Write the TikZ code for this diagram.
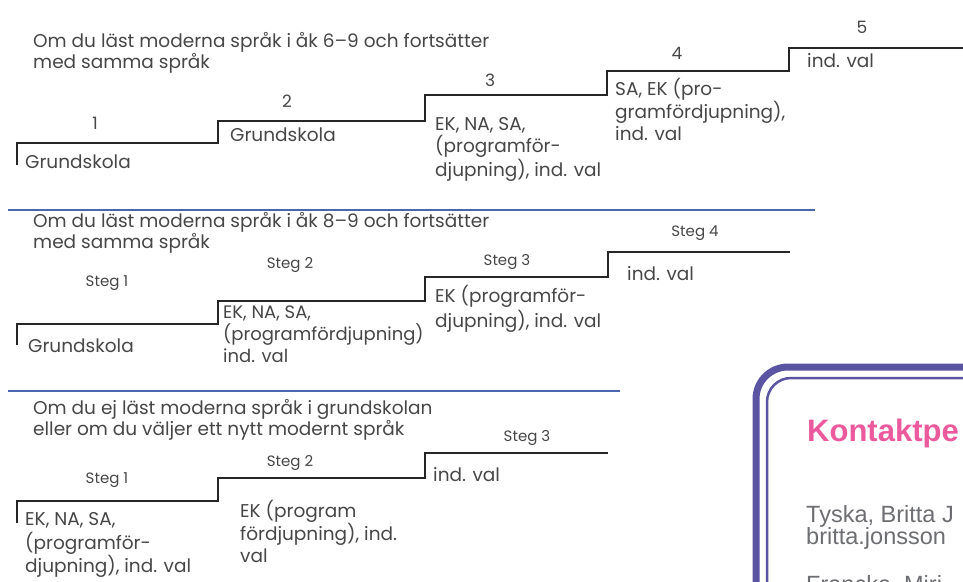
\documentclass[tikz,border=0pt]{standalone}
\usepackage{fontspec}
\newfontfamily\stairfont{Poppins}
\newfontfamily\boxfont{Liberation Sans}
\definecolor{sepblue}{HTML}{4A66B0}
\definecolor{boxpurple}{HTML}{5A54A2}
\definecolor{kpink}{HTML}{EC5A9E}
\definecolor{kgray}{HTML}{6D6E71}
\definecolor{stairtext}{HTML}{474747}
\begin{document}
\begin{tikzpicture}[x=1pt,y=-1pt,
  stair/.style={line width=2pt, black!85, line join=miter},
  sep/.style={line width=2.6pt, sepblue},
  txt/.style={anchor=base west, inner sep=0pt, align=left, text=stairtext,
    font=\stairfont\fontsize{18.5}{22}\selectfont},
  ttl/.style={txt, font=\stairfont\fontsize{18.5}{18}\selectfont},
  num/.style={anchor=center, inner sep=0pt, text=stairtext,
    font=\stairfont\fontsize{17}{18}\selectfont},
  steglbl/.style={anchor=center, inner sep=0pt, text=stairtext,
    font=\stairfont\fontsize{15}{18}\selectfont},
  kbox/.style={rounded corners=32pt, line width=7pt, boxpurple},
  kboxin/.style={rounded corners=24pt, line width=2.5pt, boxpurple},
  khead/.style={anchor=base west, inner sep=0pt, text=kpink,
    font=\boxfont\bfseries\fontsize{31}{34}\selectfont},
  kline/.style={anchor=base west, inner sep=0pt, text=kgray,
    font=\boxfont\fontsize{23.5}{28}\selectfont}]
\useasboundingbox (0,0) rectangle (963,581);
\fill[white] (0,0) rectangle (963,581);

% ---------- section 1 ----------
\node[ttl] (t1) at (33,68.5) {Om du läst moderna språk i åk 6–9 och fortsätter\\med samma språk};
\coordinate (a0) at (17,165);
\coordinate (a1) at (17,143);
\coordinate (a2) at (218,143);
\coordinate (a3) at (218,121);
\coordinate (a4) at (425,121);
\coordinate (a5) at (425,95);
\coordinate (a6) at (607,95);
\coordinate (a7) at (607,71);
\coordinate (a8) at (789,71);
\coordinate (a9) at (789,48);
\coordinate (a10) at (963,48);
\draw[stair] (a0) -- (a1) -- (a2) -- (a3) -- (a4) -- (a5) -- (a6) -- (a7) -- (a8) -- (a9) -- (a10);
\node[num] (n1) at (95,123) {1};
\node[num] (n2) at (287,101) {2};
\node[num] (n3) at (490,80) {3};
\node[num] (n4) at (677,53) {4};
\node[num] (n5) at (862,27) {5};
\node[txt] (g1) at (25,168.5) {Grundskola};
\node[txt] (g2) at (230,141.5) {Grundskola};
\node[txt] (s3) at (435,176) {EK, NA, SA,\\(programför-\\djupning), ind. val};
\node[txt] (s4) at (615,140.5) {SA, EK (pro-\\gramfördjupning),\\ind. val};
\node[txt] (s5) at (807,67.5) {ind. val};

\draw[sep] (8,210) coordinate (b1s) -- (815,210) coordinate (b1e);

% ---------- section 2 ----------
\node[ttl] (t2) at (33,248.5) {Om du läst moderna språk i åk 8–9 och fortsätter\\med samma språk};
\coordinate (c0) at (17,345);
\coordinate (c1) at (17,324);
\coordinate (c2) at (218,324);
\coordinate (c3) at (218,301);
\coordinate (c4) at (425,301);
\coordinate (c5) at (425,277);
\coordinate (c6) at (608,277);
\coordinate (c7) at (608,252);
\coordinate (c8) at (790,252);
\draw[stair] (c0) -- (c1) -- (c2) -- (c3) -- (c4) -- (c5) -- (c6) -- (c7) -- (c8);
\node[steglbl] (m1) at (107,283) {Steg 1};
\node[steglbl] (m2) at (290,265) {Steg 2};
\node[steglbl] (m3) at (507,262) {Steg 3};
\node[steglbl] (m4) at (695,233) {Steg 4};
\node[txt] (mg1) at (28,352.5) {Grundskola};
\node[txt, font=\stairfont\fontsize{18}{22}\selectfont] (ms2) at (223,362.5) {EK, NA, SA,\\(programfördjupning)\\ind. val};
\node[txt, font=\stairfont\fontsize{18.5}{25}\selectfont] (ms3) at (435,327.5) {EK (programför-\\djupning), ind. val};
\node[txt] (ms4) at (627,280.5) {ind. val};

\draw[sep] (8,391) coordinate (b2s) -- (620,391) coordinate (b2e);

% ---------- section 3 ----------
\node[ttl, font=\stairfont\fontsize{18.5}{17}\selectfont] (t3) at (33,435.5) {Om du ej läst moderna språk i grundskolan\\eller om du väljer ett nytt modernt språk};
\coordinate (d0) at (17,523);
\coordinate (d1) at (17,501);
\coordinate (d2) at (218,501);
\coordinate (d3) at (218,478);
\coordinate (d4) at (425,478);
\coordinate (d5) at (425,453);
\coordinate (d6) at (608,453);
\draw[stair] (d0) -- (d1) -- (d2) -- (d3) -- (d4) -- (d5) -- (d6);
\node[steglbl] (l1) at (107,480) {Steg 1};
\node[steglbl] (l2) at (290,463) {Steg 2};
\node[steglbl] (l3) at (527,438) {Steg 3};
\node[txt, font=\stairfont\fontsize{18.5}{23.5}\selectfont] (ls1) at (25,572.5) {EK, NA, SA,\\(programför-\\djupning), ind. val};
\node[txt] (ls2) at (240,562.5) {EK (program\\fördjupning), ind.\\val};
\node[txt] (ls3) at (433,481.5) {ind. val};

% ---------- contact box ----------
\begin{scope}
\clip (0,0) rectangle (963,581);
\draw[kbox] (756,367) rectangle (1040,660);
\draw[kboxin] (767,378) rectangle (1030,650);
\node[khead] (kh) at (807,441) {Kontaktpe};
\node[kline] (k1) at (806,522) {Tyska, Britta J};
\node[kline] (k2) at (806,544) {britta.jonsson};
\node[kline] (k3) at (806,592) {Francke, Miri};
\end{scope}
\end{tikzpicture}
\end{document}
